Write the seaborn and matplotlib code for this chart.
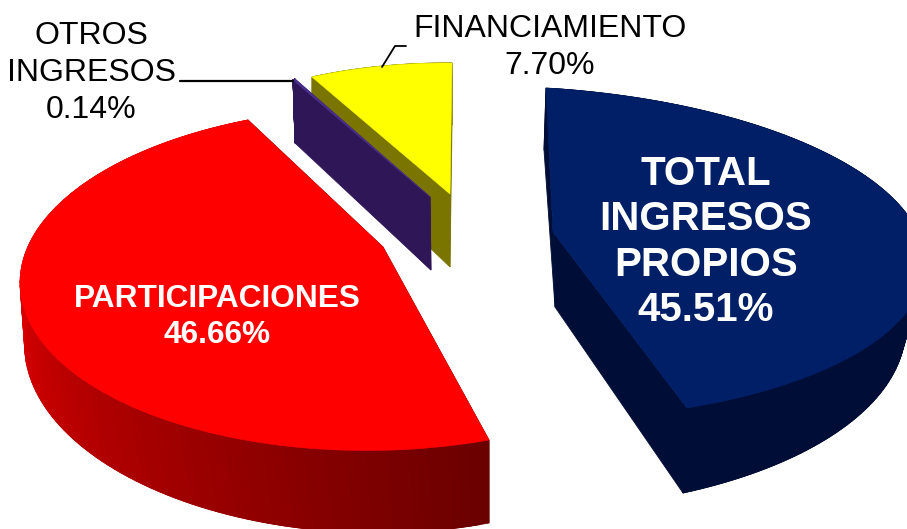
import numpy as np
import seaborn as sns
import matplotlib.pyplot as plt
from matplotlib.colors import to_rgb

categories = ['TOTAL\nINGRESOS\nPROPIOS', 'PARTICIPACIONES', 'OTROS\nINGRESOS', 'FINANCIAMIENTO']
percentages = [45.51, 46.66, 0.14, 7.70]

top_colors = ['#001f66', '#ff0000', '#4a2f90', '#ffff00']
wall_near = ['#000d36', '#d80000', '#2f1657', '#7a7400']
wall_far = ['#000d36', '#6a0000', '#2f1657', '#7a7400']

# where apex, first edge, last edge and arc middle land in the picture (pixels)
top_anchors = [
    [(553, 232), (546, 88), (687, 408), (911, 220)],
    [(383, 247), (489, 440), (248, 120), (26, 314)],
    [(430, 197), (293, 80), (295, 79), None],
    [(450, 194), (312, 77), (452, 63), None],
]
bottom_anchors = [
    [(555, 307), (544, 150), (683, 493), (891, 280)],
    [(385, 322), (489, 523), (248, 180), (33, 385)],
    [(431, 270), (295, 143), (297, 142), None],
    [(450, 267), (312, 135), (452, 125), None],
]
draw_order = [3, 2, 1, 0]


def fit_map(src, dst):
    # affine with 3 points, full perspective with 4
    src = np.array(src, float)
    dst = np.array(dst, float)
    if len(src) == 3:
        a = np.column_stack([src, np.ones(3)])
        m = np.linalg.solve(a, dst)
        return np.vstack([m.T, [0, 0, 1]])
    rows, rhs = [], []
    for (x, y), (u, v) in zip(src, dst):
        rows.append([x, y, 1, 0, 0, 0, -u * x, -u * y])
        rows.append([0, 0, 0, x, y, 1, -v * x, -v * y])
        rhs += [u, v]
    h = np.linalg.solve(np.array(rows), np.array(rhs))
    return np.append(h, 1).reshape(3, 3)


def project(m, x, y):
    p = m @ np.vstack([x, y, np.ones_like(x)])
    return p[0] / p[2], p[1] / p[2]


def make_map(start, end, anchors):
    mid = (start + end) / 2
    src = [(0, 0), (np.cos(start), np.sin(start)), (np.cos(end), np.sin(end))]
    dst = anchors[:3]
    if anchors[3] is not None:
        src.append((np.cos(mid), np.sin(mid)))
        dst = anchors
    return fit_map(src, dst)


sns.set_theme(style='white')
plt.rcParams['font.family'] = ['Liberation Sans', 'DejaVu Sans']

fig = plt.figure(figsize=(9.07, 5.29), dpi=100)
ax = fig.add_axes([0, 0, 1, 1])

# the pie gives the angle of each slice
wedges, _ = ax.pie(percentages, startangle=90, counterclock=False)
angles = [(np.radians(w.theta2), np.radians(w.theta1)) for w in wedges]
for w in wedges:
    w.remove()
ax.set_aspect('auto')
ax.set_xlim(0, 907)
ax.set_ylim(529, 0)
ax.axis('off')

for z, i in enumerate(draw_order):
    start, end = angles[i]
    top = make_map(start, end, top_anchors[i])
    bottom = make_map(start, end, bottom_anchors[i])
    t = np.linspace(start, end, 120)
    tx, ty = project(top, np.cos(t), np.sin(t))
    bx, by = project(bottom, np.cos(t), np.sin(t))
    ax0, ay0 = top_anchors[i][0]
    bx0, by0 = bottom_anchors[i][0]
    near = np.array(to_rgb(wall_near[i]))
    far = np.array(to_rgb(wall_far[i]))

    # flat side walls
    ax.fill([ax0, tx[0], bx[0], bx0], [ay0, ty[0], by[0], by0], color=wall_far[i], lw=0.6, zorder=z + 1)
    ax.fill([ax0, tx[-1], bx[-1], bx0], [ay0, ty[-1], by[-1], by0], color=wall_far[i], lw=0.6, zorder=z + 1)

    # curved wall, shaded strip by strip, each one overlapping the next
    for k in range(len(t) - 1):
        # dark at the first edge, full light once the wall turns out of sight
        frac = min(k / (len(t) - 2) / 0.55, 1)
        c = far + (near - far) * frac
        j = min(k + 2, len(t) - 1)
        ax.fill([tx[k], tx[j], bx[j], bx[k]], [ty[k], ty[j], by[j], by[k]],
                color=tuple(c), lw=0.6, zorder=z + 1.1)

    ax.fill(np.r_[ax0, tx], np.r_[ay0, ty], color=top_colors[i], lw=0.4, zorder=z + 1.5)

# labels inside the slices
ax.text(706, 242, categories[0] + '\n%.2f%%' % percentages[0], color='white', fontsize=29, fontweight='bold',
        ha='center', va='center', linespacing=1.245, zorder=10)
ax.text(217, 317, categories[1] + '\n%.2f%%' % percentages[1], color='white', fontsize=22.8, fontweight='bold',
        ha='center', va='center', linespacing=1.22, zorder=10)

# outside labels and their leaders
ax.text(91, 73, categories[2] + '\n%.2f%%' % percentages[2], color='black', fontsize=23,
        ha='center', va='center', linespacing=1.3, zorder=10)
ax.text(550, 47.5, categories[3] + '\n%.2f%%' % percentages[3], color='black', fontsize=23,
        ha='center', va='center', linespacing=1.27, zorder=10)
ax.plot([180, 293], [81, 81], color='black', lw=1.6, zorder=9)
ax.plot([382, 395, 406], [67, 46, 46], color='black', lw=1.3, zorder=9)

plt.savefig('out.png', dpi=100)
